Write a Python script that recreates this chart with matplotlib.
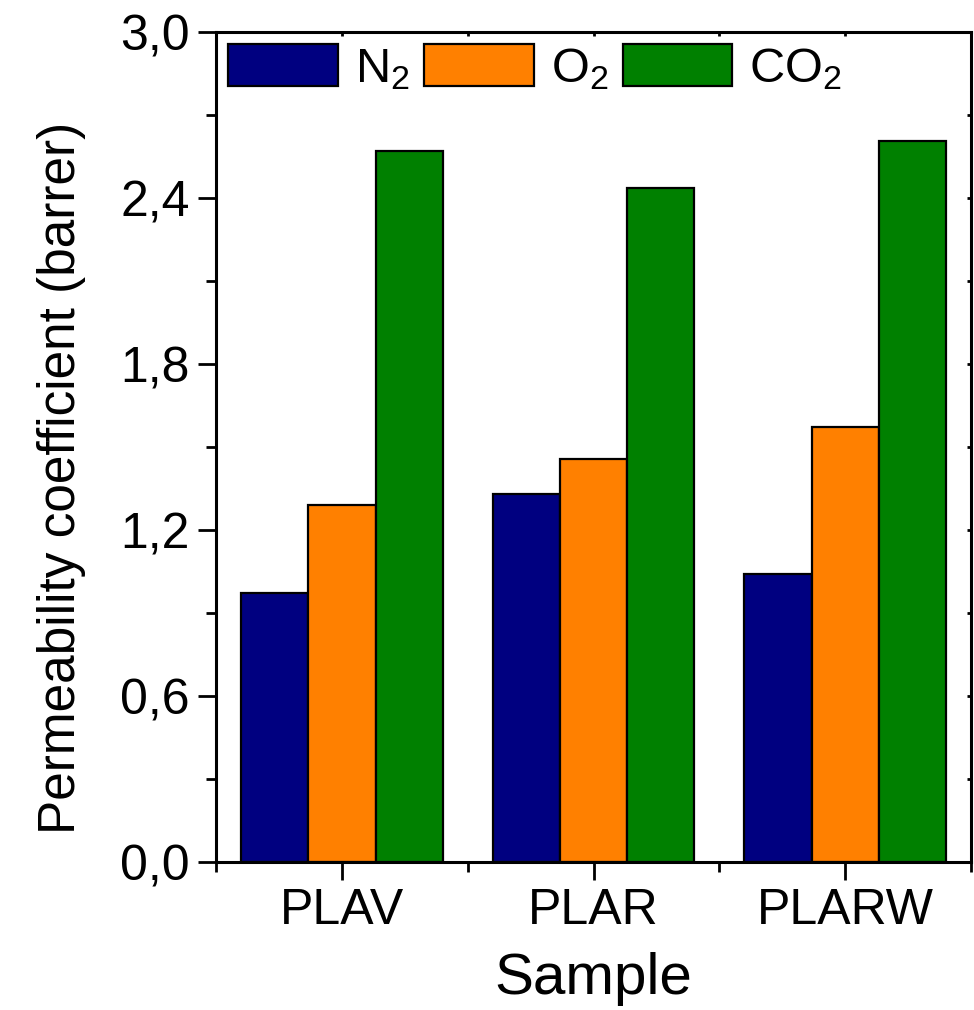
import numpy as np
import matplotlib.pyplot as plt
from matplotlib.ticker import MultipleLocator, FuncFormatter

plt.rcParams['font.family'] = ['Liberation Sans', 'DejaVu Sans']
plt.rcParams['mathtext.fontset'] = 'custom'
plt.rcParams['mathtext.rm'] = 'Liberation Sans'
plt.rcParams['mathtext.it'] = 'Liberation Sans'

samples = ['PLAV', 'PLAR', 'PLARW']
gases = [r'N$_2$', r'O$_2$', r'CO$_2$']
n2 = [0.971, 1.332, 1.041]
o2 = [1.290, 1.459, 1.573]
co2 = [2.570, 2.437, 2.607]
colors = ['#000080', '#FF8000', '#008000']

fig = plt.figure(figsize=(9.74, 10.10), dpi=100)
ax = fig.add_axes([0.222, 0.1465, 0.775, 0.8215])

x = np.arange(len(samples))
w = 0.267
for i, vals in enumerate([n2, o2, co2]):
    ax.bar(x + (i - 1) * w, vals, w, color=colors[i], edgecolor='black',
           linewidth=1.6, label=gases[i], zorder=2)

ax.set_xlim(-0.5, 2.5)
ax.set_ylim(0, 3.0)
ax.set_xticks(x)
ax.set_xticklabels(samples)
ax.xaxis.set_minor_locator(plt.FixedLocator([-0.5, 0.5, 1.5, 2.5]))
ax.yaxis.set_major_locator(MultipleLocator(0.6))
ax.yaxis.set_minor_locator(MultipleLocator(0.3))
ax.yaxis.set_major_formatter(FuncFormatter(lambda v, p: f'{v:.1f}'.replace('.', ',')))

ax.tick_params(which='major', direction='out', length=13, width=2, labelsize=36, pad=6)
ax.tick_params(which='minor', direction='out', length=7, width=2)
for s in ax.spines.values():
    s.set_linewidth(2.2)

top = ax.secondary_xaxis('top')
top.set_xticks([-0.5, 0, 0.5, 1, 1.5, 2, 2.5])
top.tick_params(direction='in', length=3, width=2, labeltop=False)
right = ax.secondary_yaxis('right')
right.set_yticks(np.arange(0, 3.01, 0.3))
right.tick_params(direction='in', length=3, width=2, labelright=False)

ax.set_xlabel('Sample', fontsize=42)
ax.xaxis.set_label_coords(0.5, -0.108)
ax.set_ylabel('Permeability coefficient (barrer)', fontsize=37)
ax.yaxis.set_label_coords(-0.172, 0.463)

ax.legend(loc='upper left', ncol=3, frameon=False, fontsize=35,
          handlelength=2.25, handleheight=0.95, handletextpad=0.35,
          columnspacing=0.3, borderaxespad=0.15, borderpad=0.1)

fig.savefig('out.png', dpi=100)
